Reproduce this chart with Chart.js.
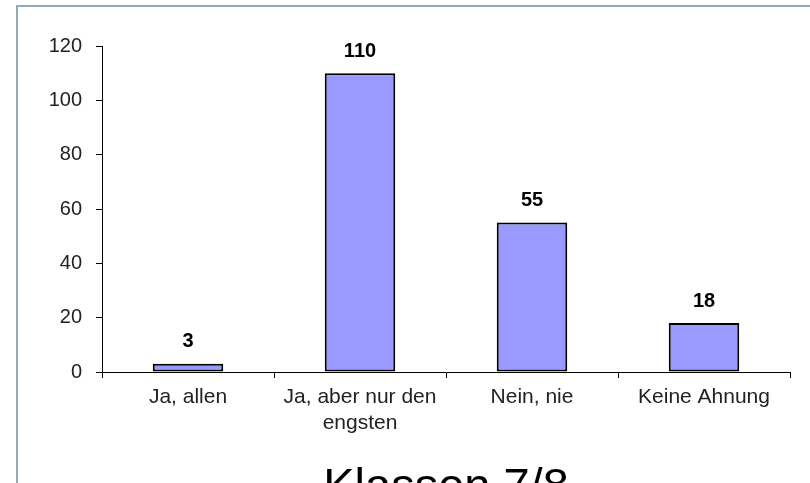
<!DOCTYPE html>
<html>
<head>
<meta charset="utf-8">
<script src="https://cdn.jsdelivr.net/npm/chart.js@4"></script>
<style>
  html, body { margin: 0; padding: 0; background: #fff; overflow: hidden; }
  #wrap { position: relative; width: 810px; height: 540px; }
  #frame { position: absolute; left: 16px; top: 5px; right: 0; bottom: 0;
           border-left: 2px solid #93aabb; border-top: 2px solid #93aabb; }
  canvas { position: absolute; left: 0; top: 0; }
</style>
</head>
<body>
<div id="wrap">
  <div id="frame"></div>
  <canvas id="chart" width="810" height="540"></canvas>
</div>
<script>
// values
const categories = ['Ja, allen', ['Ja, aber nur den', 'engsten'], 'Nein, nie', 'Keine Ahnung'];
const counts = [3, 110, 55, 18];
const yTicks = [0, 20, 40, 60, 80, 100, 120];

const FONT = '"Liberation Sans", Arial, sans-serif';

// value labels above the bars
const valueLabels = {
    id: 'valueLabels',
    afterDatasetsDraw(chart) {
        const ctx = chart.ctx;
        const meta = chart.getDatasetMeta(0);
        ctx.save();
        ctx.font = 'bold 20px ' + FONT;
        ctx.fillStyle = '#000';
        ctx.textAlign = 'center';
        ctx.textBaseline = 'middle';
        meta.data.forEach((bar, i) => {
            ctx.fillText(String(counts[i]), bar.x, bar.y - 22);
        });
        ctx.restore();
    }
};

new Chart(document.getElementById('chart'), {
    type: 'bar',
    data: {
        labels: categories,
        datasets: [{
            data: counts,
            backgroundColor: '#9999ff',
            borderColor: '#000',
            borderWidth: 2,
            borderSkipped: false,
            barPercentage: 0.41,
            categoryPercentage: 1
        }]
    },
    options: {
        responsive: false,
        animation: false,
        layout: { padding: { left: 0, right: 20, top: 46, bottom: 24 } },
        plugins: {
            legend: { display: false },
            tooltip: { enabled: false },
            title: {
                display: true,
                position: 'bottom',
                fullSize: false,
                text: 'Klassen 7/8',
                color: '#000',
                font: { family: FONT, size: 47, weight: 'normal', lineHeight: 1.2 },
                padding: 0
            }
        },
        scales: {
            x: {
                afterFit(scale) { scale.height = 87.6; },
                grid: { display: true, drawOnChartArea: false, offset: true, color: '#000', tickLength: 6 },
                border: { display: true, color: '#000', width: 1 },
                ticks: { color: '#222', padding: 7, maxRotation: 0, autoSkip: false,
                         font: { family: FONT, size: 21, lineHeight: 1.2 } }
            },
            y: {
                min: 0,
                max: 120,
                afterFit(scale) { scale.width = 102; },
                afterBuildTicks(scale) { scale.ticks = yTicks.map(v => ({ value: v })); },
                grid: { display: true, drawOnChartArea: false, color: '#000', tickLength: 6 },
                border: { display: true, color: '#000', width: 1 },
                ticks: { color: '#222', padding: 14, font: { family: FONT, size: 20 } }
            }
        }
    },
    plugins: [valueLabels]
});
</script>
</body>
</html>
